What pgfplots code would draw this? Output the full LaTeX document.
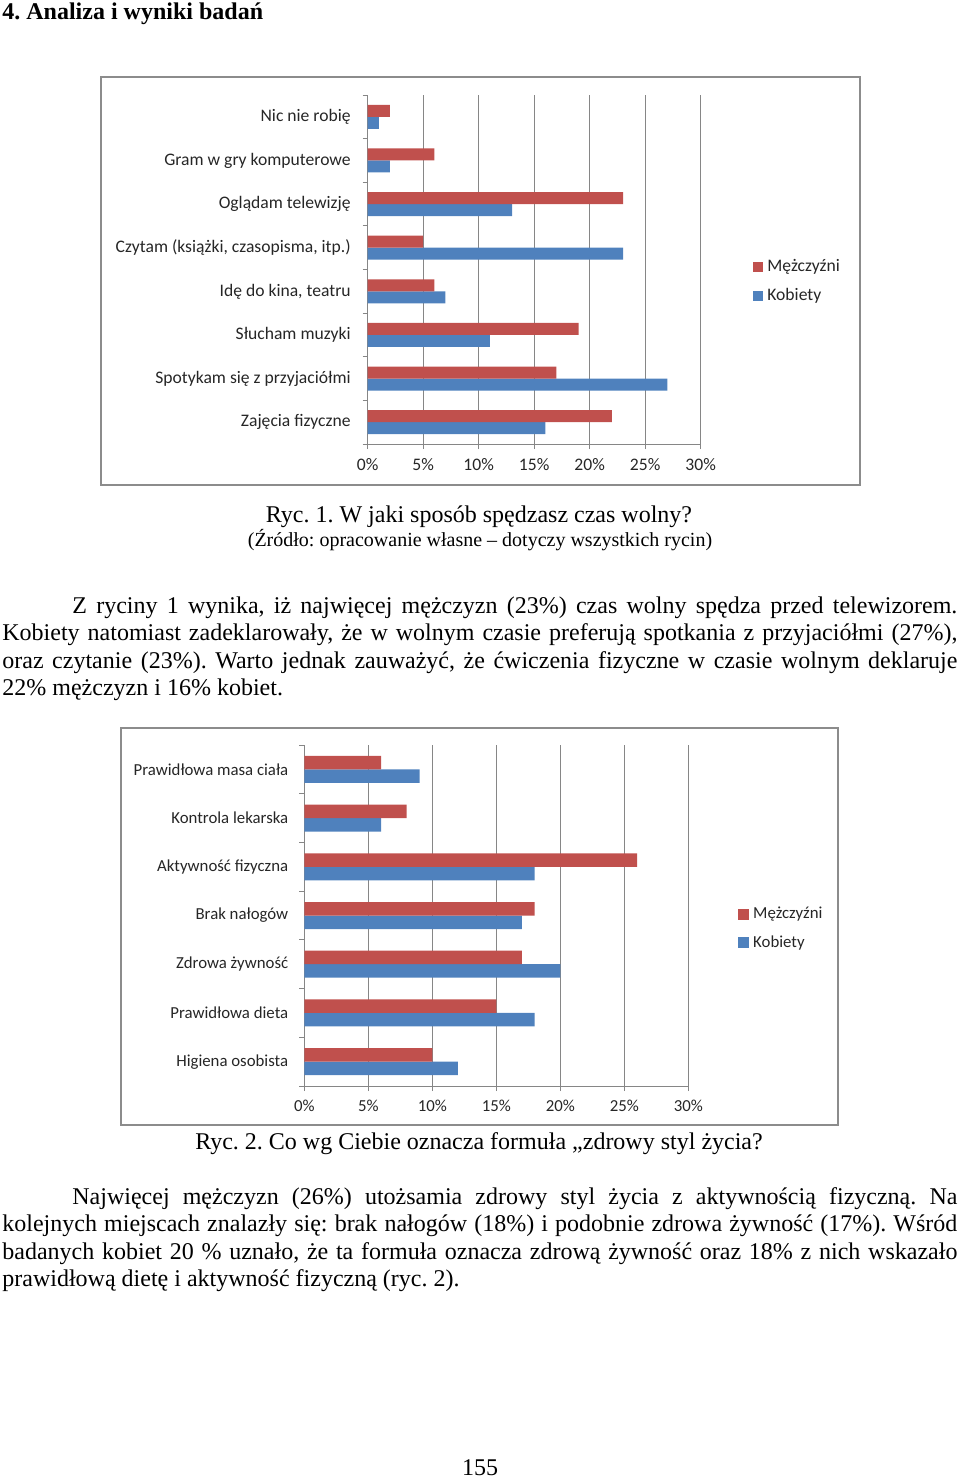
\documentclass[border=0pt]{standalone}
\usepackage{fontspec}
\setmainfont{Liberation Serif}
\newfontfamily\calibri{Carlito}
\usepackage{pgfplots}
\usepackage{pgfplotstable}
\pgfplotsset{compat=1.18}
\frenchspacing

\definecolor{barred}{HTML}{C0504D}
\definecolor{barblue}{HTML}{4F81BD}
\definecolor{gridgray}{HTML}{868686}
\definecolor{framegray}{HTML}{8C8C8C}

% Ryc. 1: y = position from the bottom, M = Mężczyźni, K = Kobiety (%)
\pgfplotstableread{
y M K
7 2 1
6 6 2
5 23 13
4 5 23
3 6 7
2 19 11
1 17 27
0 22 16
}\rycA

% Ryc. 2
\pgfplotstableread{
y M K
6 6 9
5 8 6
4 26 18
3 18 17
2 17 20
1 15 18
0 10 12
}\rycB

\pgfplotsset{excelbar/.style={
  scale only axis, xbar=0pt,
  xmin=0, xmax=30, xtick={0,5,...,30},
  xticklabel={\pgfmathprintnumber{\tick}\%},
  /pgf/number format/assume math mode=true,
  axis x line*=bottom, axis y line*=left,
  axis line style={gridgray, line width=0.5pt},
  xmajorgrids, grid style={gridgray, line width=0.5pt},
  tick align=outside, major tick length=2.5pt, minor tick length=2.5pt,
  major x tick style={gridgray, line width=0.5pt},
  major y tick style={draw=none},
  minor y tick style={gridgray, line width=0.5pt},
  xticklabel style={yshift=-1pt},
  reverse legend,
  legend image code/.code={\fill[##1,draw=none] (0pt,-2.5pt) rectangle (5pt,2.5pt);},
  legend style={draw=none, fill=none, anchor=west, inner sep=0pt, row sep=3pt},
  legend cell align=left,
}}

\begin{document}
\begin{tikzpicture}
\begin{scope}[x=0.5pt, y=-0.5pt]
  \useasboundingbox (0,0) rectangle (960,1478);
  \draw[framegray, line width=0.9pt] (101,77) rectangle (860,485);
  \draw[framegray, line width=0.9pt] (121,728) rectangle (838,1125);

  \node[anchor=base west, inner sep=0, font=\bfseries\fontsize{12}{14}\selectfont] at (2,19) {4. Analiza i wyniki badań};

  \node[anchor=base, inner sep=0, font=\fontsize{12}{14}\selectfont] at (479,522) {Ryc. 1. W jaki sposób spędzasz czas wolny?};
  \node[anchor=base, inner sep=0, font=\fontsize{10}{12}\selectfont] at (480,546) {(Źródło: opracowanie własne – dotyczy wszystkich rycin)};

  \begin{scope}[every node/.style={anchor=base west, inner sep=0, font=\fontsize{12}{14}\selectfont}]
    \node at (72,613) {\makebox[442.5pt][s]{Z ryciny 1 wynika, iż najwięcej  mężczyzn (23\%) czas wolny spędza przed telewizorem.}};
    \node at (2,640.5) {\makebox[477.5pt][s]{Kobiety natomiast zadeklarowały, że w wolnym czasie preferują spotkania z przyjaciółmi (27\%),}};
    \node at (2,668) {\makebox[477.5pt][s]{oraz czytanie (23\%). Warto jednak zauważyć, że ćwiczenia fizyczne w czasie wolnym deklaruje}};
    \node at (2,695.5) {22\% mężczyzn i 16\% kobiet.};

    \node at (72,1204) {\makebox[442.5pt][s]{Najwięcej mężczyzn (26\%) utożsamia zdrowy styl życia z aktywnością fizyczną. Na}};
    \node at (2,1231.5) {\makebox[477.5pt][s]{kolejnych miejscach znalazły się: brak nałogów (18\%) i podobnie zdrowa żywność (17\%). Wśród}};
    \node at (2,1259) {\makebox[477.5pt][s]{badanych kobiet 20 \% uznało, że ta formuła oznacza zdrową żywność oraz 18\% z nich wskazało}};
    \node at (2,1286.5) {prawidłową dietę i aktywność fizyczną (ryc. 2).};
  \end{scope}

  \node[anchor=base, inner sep=0, font=\fontsize{12}{14}\selectfont] at (479,1149) {Ryc. 2. Co wg Ciebie oznacza formuła „zdrowy styl życia?};
  \node[anchor=base, inner sep=0, font=\fontsize{12}{14}\selectfont] at (480,1475) {155};
\end{scope}

\begin{axis}[excelbar,
  at={(183.85pt,-222pt)}, anchor=south west,
  width=166.5pt, height=174.5pt,
  bar width=6pt,
  ymin=-0.5, ymax=7.5, ytick={0,...,7},
  minor ytick={-0.5,0.5,...,7.5},
  yticklabels={Zajęcia fizyczne, Spotykam się z przyjaciółmi, Słucham muzyki, {Idę do kina, teatru}, {Czytam (książki, czasopisma, itp.)}, Oglądam telewizję, Gram w gry komputerowe, Nic nie robię},
  yticklabel style={xshift=-2.5pt},
  tick label style={font=\calibri\fontsize{8.8}{10}\selectfont, text=black!85},
  legend style={at={(1.157,0.4656)}, font=\calibri\fontsize{8.8}{10}\selectfont, text=black!85},
]
  \addplot[fill=barblue, draw=none] table[x=K, y=y] {\rycA};
  \addplot[fill=barred, draw=none] table[x=M, y=y] {\rycA};
  \legend{Kobiety, Mężczyźni}
\end{axis}

\begin{axis}[excelbar,
  at={(152.15pt,-543pt)}, anchor=south west,
  width=192pt, height=170.5pt,
  bar width=6.75pt,
  ymin=-0.5, ymax=6.5, ytick={0,...,6},
  minor ytick={-0.5,0.5,...,6.5},
  yticklabels={Higiena osobista, Prawidłowa dieta, Zdrowa żywność, Brak nałogów, Aktywność fizyczna, Kontrola lekarska, Prawidłowa masa ciała},
  yticklabel style={xshift=-2pt},
  tick label style={font=\calibri\fontsize{8.4}{10}\selectfont, text=black!85},
  legend style={at={(1.129,0.462)}, font=\calibri\fontsize{8.4}{10}\selectfont, text=black!85},
  legend image code/.code={\fill[#1,draw=none] (0pt,-2.75pt) rectangle (5.5pt,2.75pt);},
]
  \addplot[fill=barblue, draw=none] table[x=K, y=y] {\rycB};
  \addplot[fill=barred, draw=none] table[x=M, y=y] {\rycB};
  \legend{Kobiety, Mężczyźni}
\end{axis}
\end{tikzpicture}
\end{document}
